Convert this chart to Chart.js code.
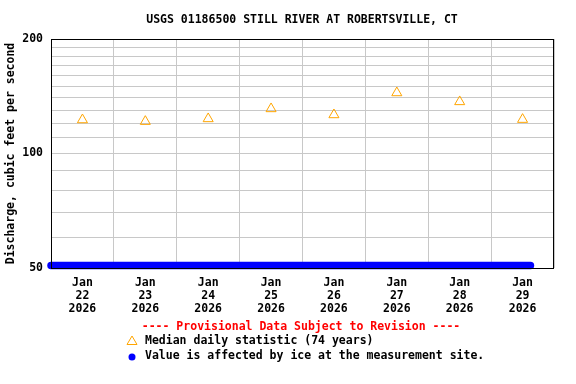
<!DOCTYPE html>
<html>
<head>
<meta charset="utf-8">
<script src="https://cdn.jsdelivr.net/npm/chart.js@4/dist/chart.umd.min.js"></script>
<style>
    body { margin: 0; background: #fff; }
    #wrap { position: relative; width: 576px; height: 384px; font-family: 'DejaVu Sans Mono', monospace; font-weight: bold; font-size: 11.5px; }
    #wrap canvas { position: absolute; left: 0; top: 0; }
    .txt { position: absolute; line-height: 15px; white-space: pre; color: #000; }
    .sym { position: absolute; }
</style>
</head>
<body>
<div id="wrap">
    <canvas id="flowChart" width="576" height="384"></canvas>
    <div class="txt" style="left:0; width:604px; text-align:center; top:12px;">USGS 01186500 STILL RIVER AT ROBERTSVILLE, CT</div>
    <div class="txt" style="left:0; width:602px; text-align:center; top:319px; color:#ff0000;">---- Provisional Data Subject to Revision ----</div>
    <svg class="sym" style="left:126px; top:335px;" width="12" height="11"><polygon points="6,1 11,9.5 1,9.5" fill="none" stroke="#ffa500" stroke-width="1"/></svg>
    <div class="txt" style="left:145px; top:333px;">Median daily statistic (74 years)</div>
    <svg class="sym" style="left:128px; top:353px;" width="8" height="8"><circle cx="4" cy="4" r="3.5" fill="#0000ff"/></svg>
    <div class="txt" style="left:145px; top:348px;">Value is affected by ice at the measurement site.</div>
</div>
<script>
// Data (hours counted from Jan 22 2026 00:00)
const dayLabels = ['22', '23', '24', '25', '26', '27', '28', '29'];
const medianHours = [12, 36, 60, 84, 108, 132, 156, 180];
const medianValues = [122.6, 121.4, 123.4, 131.1, 126.4, 144.4, 136.8, 122.9];
const iceHours = [0, 183];
const iceValues = [50.8, 50.8];
const yTickValues = [50, 60, 70, 80, 90, 100, 110, 120, 130, 140, 150, 160, 170, 180, 190, 200];
const yLabelValues = [50, 100, 200];

const FONT = { family: "'DejaVu Sans Mono', monospace", size: 11.5, weight: 'bold', lineHeight: 1.1 };
const GRID = '#c8c8c8';

// Black frame around the plot area
const framePlugin = {
    id: 'frame',
    afterDatasetsDraw(chart) {
        const a = chart.chartArea;
        const ctx = chart.ctx;
        ctx.save();
        ctx.strokeStyle = '#000';
        ctx.lineWidth = 1;
        ctx.strokeRect(Math.round(a.left) + 0.5, Math.round(a.top) + 0.5,
            Math.round(a.right - a.left) - 1, Math.round(a.bottom - a.top));
        ctx.restore();
    }
};

const ctx = document.getElementById('flowChart').getContext('2d');
const chart = new Chart(ctx, {
    type: 'line',
    data: {
        datasets: [
            {
                label: 'Median daily statistic (74 years)',
                data: medianHours.map((h, i) => ({ x: h, y: medianValues[i] })),
                showLine: false,
                pointStyle: 'triangle',
                pointRadius: 5.8,
                borderWidth: 1,
                borderColor: '#ffa500',
                backgroundColor: 'rgba(0,0,0,0)'
            },
            {
                label: 'Value is affected by ice at the measurement site.',
                data: iceHours.map((h, i) => ({ x: h, y: iceValues[i] })),
                borderColor: '#0000ff',
                borderWidth: 7.5,
                borderCapStyle: 'round',
                pointRadius: 0,
                clip: false
            }
        ]
    },
    options: {
        responsive: false,
        animation: false,
        events: [],
        layout: { padding: { top: 39, right: 22, left: 0, bottom: 0 } },
        plugins: {
            legend: { display: false },
            tooltip: { enabled: false }
        },
        scales: {
            x: {
                type: 'linear',
                min: 0,
                max: 192,
                afterFit: scale => { scale.height = 116; },
                afterBuildTicks: scale => {
                    const t = [];
                    for (let h = 0; h <= 192; h += 12) t.push({ value: h });
                    scale.ticks = t;
                },
                grid: {
                    drawTicks: false,
                    color: c => (c.tick && c.tick.value % 24 === 0) ? GRID : 'rgba(0,0,0,0)'
                },
                border: { display: false },
                ticks: {
                    autoSkip: false,
                    maxRotation: 0,
                    padding: 9,
                    color: '#000',
                    font: FONT,
                    callback: function(value) {
                        const i = medianHours.indexOf(value);
                        return i >= 0 ? ['Jan', dayLabels[i], '2026'] : '';
                    }
                }
            },
            y: {
                type: 'logarithmic',
                min: 50,
                max: 200,
                afterFit: scale => { scale.width = 51; },
                afterBuildTicks: scale => {
                    scale.ticks = yTickValues.map(v => ({ value: v }));
                },
                grid: { drawTicks: false, color: GRID },
                border: { display: false },
                ticks: {
                    autoSkip: false,
                    padding: 8,
                    color: '#000',
                    font: FONT,
                    callback: value => yLabelValues.includes(value) ? String(value) : ''
                },
                title: {
                    display: true,
                    text: 'Discharge, cubic feet per second',
                    color: '#000',
                    font: FONT,
                    padding: { top: 5, bottom: 0 }
                }
            }
        }
    },
    plugins: [framePlugin]
});
</script>
</body>
</html>
